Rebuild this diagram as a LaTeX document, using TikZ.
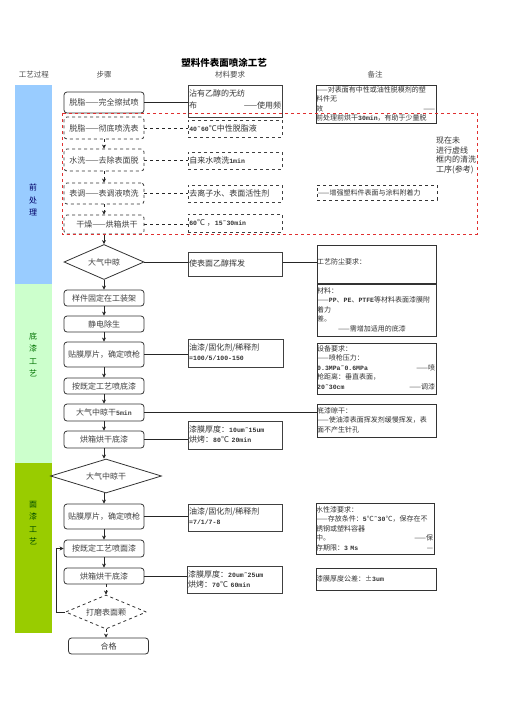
\documentclass[tikz,border=0pt]{standalone}
\usepackage{fontspec}
\setmainfont{Noto Sans CJK SC}
\newfontfamily\monof{Liberation Mono}
\usetikzlibrary{shapes.geometric,arrows.meta}
\newcommand\ml[1]{{\monof\bfseries\fontsize{6.5}{8}\selectfont #1}}
\definecolor{bluebar}{HTML}{99CCFF}
\definecolor{greenbar}{HTML}{CCFFCC}
\definecolor{limebar}{HTML}{99CC00}
\definecolor{redframe}{HTML}{E03030}
\begin{document}
\begin{tikzpicture}[x=1pt,y=-1pt,
  stepbox/.style={draw=black!80, line width=0.8pt, rounded corners=3pt, minimum width=80pt, inner sep=0pt, font=\fontsize{8}{10}\selectfont, text=black!75},
  dstep/.style={stepbox, dashed},
  mbox/.style={draw=black!75, line width=1pt, minimum width=94pt, inner sep=0pt},
  dmbox/.style={mbox, dashed, line width=0.8pt},
  nbox/.style={draw=black!80, line width=1pt, minimum width=119pt, inner sep=0pt},
  mtxt/.style={anchor=north west, inner sep=0pt, align=left, text width=92pt, font=\fontsize{8}{10.5}\selectfont, text=black!80},
  mline/.style={anchor=west, inner sep=0pt, font=\fontsize{8}{10}\selectfont, text=black!80},
  ntxt/.style={anchor=north west, inner sep=0pt, align=left, text width=118pt, font=\fontsize{7}{9.6}\selectfont, text=black!80},
  nline/.style={anchor=west, inner sep=0pt, font=\fontsize{7}{9}\selectfont, text=black!80},
  conn/.style={line width=0.8pt, draw=black!85},
  dconn/.style={conn, dashed},
  arr/.style={conn, -{Stealth[length=4pt,width=4pt]}},
  darr/.style={arr, dashed},
  diam/.style={diamond, draw=black!80, line width=0.8pt, inner sep=0pt, aspect=2.3, font=\fontsize{8}{10}\selectfont, text=black!75},
  hdr/.style={font=\fontsize{7.5}{9}\selectfont, text=black!70},
  barlabel/.style={align=center, font=\fontsize{8}{12.5}\selectfont}
]
\useasboundingbox (0,0) rectangle (504,713);

% title and headers
\node[font=\fontsize{9.5}{11}\selectfont\bfseries] (title) at (224,63) {塑料件表面喷涂工艺};
\node[hdr] (h1) at (34,75) {工艺过程};
\node[hdr] (h2) at (104,75) {步骤};
\node[hdr] (h3) at (230,75) {材料要求};
\node[hdr] (h4) at (375,75) {备注};

% left bars
\fill[bluebar] (15,85) rectangle (52,284);
\fill[greenbar] (15,284) rectangle (52,463);
\fill[limebar] (15,463) rectangle (52,633);
\node[barlabel, text=blue!40!black] (l1) at (33,200) {前\\处\\理};
\node[barlabel, text=green!45!black] (l2) at (33,355) {底\\漆\\工\\艺};
\node[barlabel, text=green!30!black] (l3) at (33,523) {面\\漆\\工\\艺};

% steps
\node[stepbox, minimum height=21pt] (s1) at (104,102.5) {脱脂——完全擦拭喷};
\node[dstep, minimum height=22pt] (s2) at (104,128) {脱脂——彻底喷洗表};
\node[dstep, minimum height=22pt] (s3) at (104,160) {水洗——去除表面脱};
\node[dstep, minimum height=21pt] (s4) at (104,193.5) {表调——表调液喷洗};
\node[dstep, minimum height=19pt] (s5) at (104,224.5) {\hspace*{6pt}干燥——烘箱烘干};
\node[diam, minimum width=80pt, minimum height=35pt] (d1) at (104,262) {大气中晾};
\node[stepbox, minimum height=16pt] (s6) at (104,298) {样件固定在工装架};
\node[stepbox, minimum height=16pt] (s7) at (104,324) {静电除生};
\node[stepbox, minimum height=25pt] (s8) at (104,354.5) {贴膜厚片，确定喷枪};
\node[stepbox, minimum height=16pt] (s9) at (104,386) {按既定工艺喷底漆};
\node[stepbox, minimum height=17pt] (s10) at (104,412.5) {大气中晾干\ml{5min}};
\node[stepbox, minimum height=17pt] (s11) at (104,439.5) {烘箱烘干底漆};
\node[diam, minimum width=111pt, minimum height=34pt] (d2) at (106,476) {大气中晾干};
\node[stepbox, minimum height=25pt] (s12) at (104,516.5) {贴膜厚片，确定喷枪};
\node[stepbox, minimum height=17pt] (s13) at (104,548.5) {按既定工艺喷面漆};
\node[stepbox, minimum height=16pt] (s14) at (104,576) {烘箱烘干底漆};
\node[diam, dashed, minimum width=81pt, minimum height=34pt] (d3) at (106,612) {打磨表面颗};
\node[stepbox, minimum height=16pt] (s15) at (108.5,646) {合格};

% materials
\node[mbox, minimum height=32pt] (m1) at (235,101) {};
\node[mtxt, font=\fontsize{8}{12}\selectfont] (m1t) at ([xshift=1.5pt,yshift=-5pt]m1.north west) {沾有乙醇的无纺\\布\hfill——使用频};
\node[dmbox, minimum height=17pt] (m2) at (235,128.5) {};
\node[mline] (m2t) at ([xshift=1.5pt]m2.west) {\ml{40˜60}℃中性脱脂液};
\node[dmbox, minimum height=17pt] (m3) at (235,160.5) {};
\node[mline] (m3t) at ([xshift=1.5pt]m3.west) {自来水喷洗\ml{1min}};
\node[dmbox, minimum height=17pt] (m4) at (235,193.5) {};
\node[mline] (m4t) at ([xshift=1.5pt]m4.west) {去离子水、表面活性剂};
\node[dmbox, minimum height=18pt] (m5) at (235,223) {};
\node[mline] (m5t) at ([xshift=1.5pt]m5.west) {\ml{60}℃ ，\ml{15˜30min}};
\node[mbox, minimum height=24pt] (m6) at (235,264) {};
\node[mline] (m6t) at ([xshift=1.5pt,yshift=1pt]m6.west) {使表面乙醇挥发};
\node[mbox, minimum height=28pt, minimum width=95pt] (m7) at (235.5,353) {};
\node[mtxt] (m7t) at ([xshift=1.5pt,yshift=-5pt]m7.north west) {油漆/固化剂/稀释剂\\\ml{=100/5/100-150}};
\node[mbox, minimum height=28pt] (m8) at (235,435) {};
\node[mtxt] (m8t) at ([xshift=1.5pt,yshift=-5pt]m8.north west) {漆膜厚度：\ml{10um˜15um}\\烘烤：\ml{80}℃ \ml{20min}};
\node[mbox, minimum height=27pt] (m9) at (235,517.5) {};
\node[mtxt] (m9t) at ([xshift=1.5pt,yshift=-4pt]m9.north west) {油漆/固化剂/稀释剂\\\ml{=7/1/7-8}};
\node[mbox, minimum height=27pt, minimum width=95pt] (m10) at (234.5,579.5) {};
\node[mtxt] (m10t) at ([xshift=1.5pt,yshift=-5pt]m10.north west) {漆膜厚度：\ml{20um˜25um}\\烘烤：\ml{70}℃ \ml{60min}};

% notes
\node[nbox, minimum width=120pt, minimum height=38pt] (n1) at (376,104) {};
\node[ntxt, text width=119pt] (n1t) at ([xshift=0.5pt,yshift=-1.5pt]n1.north west) {——对表面有中性或油性脱模剂的塑\\料件无\\效\hfill——\\前处理前烘干\ml{30min}，有助于少量脱};
\node[anchor=north west, inner sep=0pt, align=left, font=\fontsize{8}{9.7}\selectfont, text=black!80] (side) at (436,136.5) {现在未\\进行虚线\\框内的清洗\\工序(参考)};
\node[nbox, dashed, line width=0.8pt, minimum width=120pt, minimum height=15pt] (n4) at (377,192.5) {};
\node[nline] (n4t) at ([xshift=1pt]n4.west) {——增强塑料件表面与涂料附着力};
\node[nbox, minimum height=38pt] (n5) at (376.5,264) {};
\node[nline] (n5t) at ([xshift=0.5pt,yshift=2pt]n5.west) {工艺防尘要求：};
\node[nbox, minimum height=52pt] (n6) at (376.5,310) {};
\node[ntxt] (n6t) at ([xshift=0.5pt,yshift=-3.5pt]n6.north west) {材料：\\——\ml{PP}、\ml{PE}、\ml{PTFE}等材料表面漆膜附\\着力\\差。\\\hspace*{21pt}——需增加适用的底漆};
\node[nbox, minimum height=51pt] (n7) at (376.5,368.5) {};
\node[ntxt] (n7t) at ([xshift=0.5pt,yshift=-2.5pt]n7.north west) {设备要求：\\——喷枪压力：\\\ml{0.3MPa˜0.6MPa}\hfill——喷\\枪距离：垂直表面，\\\ml{20˜30cm}\hfill——调漆};
\node[nbox, minimum height=33pt] (n8) at (376.5,420.5) {};
\node[ntxt] (n8t) at ([xshift=0.5pt,yshift=-3.5pt]n8.north west) {底漆晾干：\\——使油漆表面挥发剂缓慢挥发，表\\面不产生针孔};
\node[nbox, minimum width=118pt, minimum height=51pt] (n9) at (375,528.5) {};
\node[ntxt, text width=117pt] (n9t) at ([xshift=0.5pt,yshift=-3.5pt]n9.north west) {水性漆要求：\\——存放条件：\ml{5}℃\ml{˜30}℃，保存在不\\锈钢或塑料容器\\中。\hfill——保\\存期限：\ml{3 Ms}\hfill—};
\node[nbox, minimum width=120pt, minimum height=22pt] (n10) at (376,579) {};
\node[nline] (n10t) at ([xshift=0.5pt]n10.west) {漆膜厚度公差：±\ml{3um}};

% connectors: steps to materials
\draw[conn] (s1.east) -- (s1.east -| m1.west);
\draw[dconn] (s2.east) -- (s2.east -| m2.west);
\draw[dconn] (s3.east) -- (s3.east -| m3.west);
\draw[dconn] (s4.east) -- (s4.east -| m4.west);
\draw[dconn] (s5.east) -- (s5.east -| m5.west);
\draw[conn] (d1.east) -- (d1.east -| m6.west);
\draw[conn] (d1.east -| m6.east) -- (d1.east -| n5.west);
\draw[conn] (s8.east) -- (s8.east -| m7.west);
\draw[conn] (s10.east) -- (s10.east -| n8.west);
\draw[conn] (s11.east) -- (s11.east -| m8.west);
\draw[conn] (s12.east) -- (s12.east -| m9.west);
\draw[conn] (s14.east) -- (s14.east -| m10.west);

% flow arrows
\draw[darr] (s2.south) -- (s3.north);
\draw[darr] (s3.south) -- (s4.north);
\draw[darr] (s4.south) -- (s5.north);
\draw[arr] (s5.south) -- (d1.north);
\draw[arr] (d1.south) -- (s6.north);
\draw[arr] (s6.south) -- (s7.north);
\draw[arr] (s7.south) -- (s8.north);
\draw[arr] (s8.south) -- (s9.north);
\draw[arr] (s9.south) -- (s9.south |- s10.north);
\draw[arr] (s10.south) -- (s10.south |- s11.north);
\draw[arr] (s11.south) -- (s11.south |- d2.north);
\draw[arr] (d2.south -| s12.north) -- (s12.north);
\draw[arr] (s12.south) -- (s13.north);
\draw[arr] (s13.south) -- (s14.north);
\draw[darr] (s14.south -| d3.north) -- (d3.north);
\draw[darr] (d3.south) -- (d3.south |- s15.north);
\coordinate (loop) at (56,612);
\draw[arr] (d3.west) -- (d3.west -| loop) |- (s13.west);

% red dashed frame
\draw[redframe, dashed, line width=1pt] (62,113) rectangle (477,234);
\end{tikzpicture}
\end{document}
